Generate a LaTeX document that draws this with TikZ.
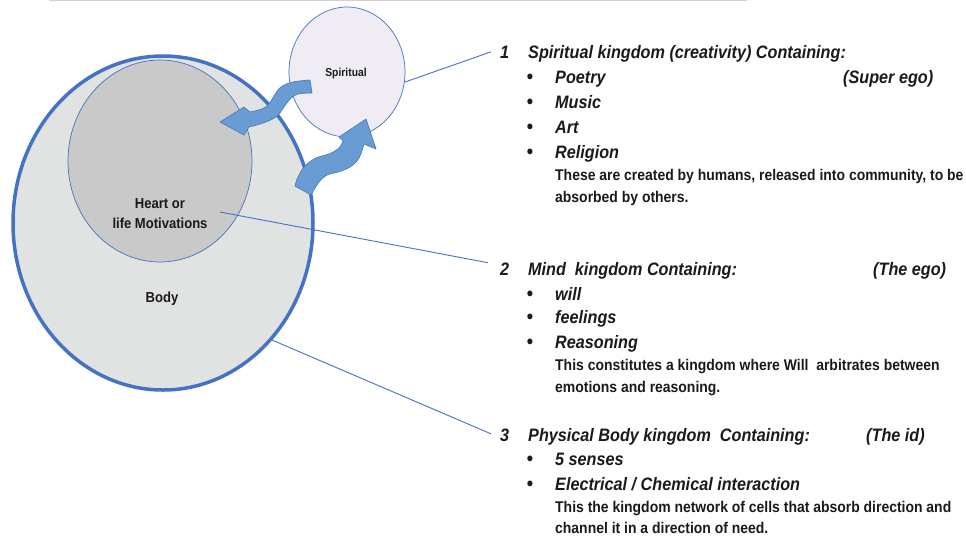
\documentclass[tikz,border=0pt]{standalone}
\usepackage{fontspec}
\setmainfont{Liberation Sans}[FakeStretch=0.9]
\usetikzlibrary{shapes.geometric}
\definecolor{bord}{HTML}{4472C4}
\definecolor{bodyfill}{HTML}{E1E3E2}
\definecolor{heartfill}{HTML}{C8C9C8}
\definecolor{spfill}{HTML}{EFECF3}
\definecolor{arrfill}{HTML}{6A9CD4}
\definecolor{arrline}{HTML}{4A7CC0}
\definecolor{txt}{HTML}{1A1A1A}
\begin{document}
\begin{tikzpicture}[x=1pt,y=-1pt,
  heading/.style={anchor=base west,inner sep=0pt,text=txt,font=\fontsize{18}{18}\selectfont\bfseries\itshape},
  itemtext/.style={anchor=base west,inner sep=0pt,text=txt,font=\fontsize{18}{18}\selectfont\bfseries\itshape},
  desc/.style={anchor=base west,inner sep=0pt,text=txt,font=\fontsize{15.5}{15.5}\selectfont\bfseries},
  bul/.style={anchor=base,inner sep=0pt,text=txt,font=\fontsize{20}{20}\selectfont\bfseries},
  lab/.style={anchor=base,inner sep=0pt,text=txt,font=\fontsize{14.5}{14.5}\selectfont\bfseries},
  conn/.style={draw=bord,line width=0.9pt},
  arr/.style={fill=arrfill,draw=arrline,line width=0.7pt,line join=round}
]
\useasboundingbox[fill=white] (0,0) rectangle (966,539);
\draw[gray!35,line width=1.2pt] (49,0.6) -- (747,0.6);

% shapes
\node[ellipse,draw=bord,line width=3.5pt,fill=bodyfill,minimum width=300pt,minimum height=334pt,inner sep=0pt] (body) at (163,223) {};
\node[ellipse,draw=bord,line width=0.7pt,fill=heartfill,minimum width=184pt,minimum height=202pt,inner sep=0pt] (heart) at (160,161) {};
\node[ellipse,draw=bord,line width=0.7pt,fill=spfill,minimum width=116pt,minimum height=130pt,inner sep=0pt] (spirit) at (347,72) {};

\node[lab] (bodylab) at (162,302) {Body};
\node[lab] (heartlab1) at (160,208) {Heart or};
\node[lab] (heartlab2) at (160,228) {life Motivations};
\node[lab,font=\fontsize{11.5}{11.5}\selectfont\bfseries] (splab) at (346,76) {Spiritual};

% wavy arrows
\filldraw[arr] plot[smooth,tension=0.6] coordinates {(310,80) (293,82) (281,87) (274,96) (269,104) (262,109) (250,112)}
  -- (244,107) -- (220,122) -- (244,135)
  -- plot[smooth,tension=0.6] coordinates {(249,127) (266,122) (277,116) (284,107) (290,99) (298,94) (312,93)} -- cycle;
\filldraw[arr] plot[smooth,tension=0.6] coordinates {(295,186) (298,177) (305,166) (316,158) (329,154) (339,148) (343,141)}
  -- (339,137) -- (366,119) -- (376,149)
  -- plot[smooth,tension=0.6] coordinates {(364,144) (359,158) (350,167) (338,172) (327,175) (319,182) (311,195)} -- cycle;

% section numbers
\node[heading] (n1) at (500,58) {1};
\node[heading] (n2) at (500,275) {2};
\node[heading] (n3) at (500,441) {3};

\coordinate (hl) at (220,212);
\draw[conn] (spirit.-10) -- ([xshift=-9pt]n1.west);
\draw[conn] (hl) -- ([xshift=-12pt,yshift=6pt]n2.west);
\draw[conn] (body.-47) -- ([xshift=-9pt,yshift=1pt]n3.west);

% section 1
\node[heading] (h1) at (528,58) {Spiritual kingdom (creativity) Containing:};
\node[bul] (b11) at (530,83) {\textbullet};
\node[itemtext] (i11) at (555,83) {Poetry};
\node[itemtext] (se) at (843,83) {(Super ego)};
\node[bul] (b12) at (530,108) {\textbullet};
\node[itemtext] (i12) at (555,108) {Music};
\node[bul] (b13) at (530,133) {\textbullet};
\node[itemtext] (i13) at (555,133) {Art};
\node[bul] (b14) at (530,158) {\textbullet};
\node[itemtext] (i14) at (555,158) {Religion};
\node[desc] (d11) at (555,180) {These are created by humans, released into community, to be};
\node[desc] (d12) at (555,202) {absorbed by others.};

% section 2
\node[heading] (h2) at (528,275) {Mind\ \ kingdom Containing:};
\node[itemtext] (ego) at (873,275) {(The ego)};
\node[bul] (b21) at (530,300) {\textbullet};
\node[itemtext] (i21) at (555,300) {will};
\node[bul] (b22) at (530,323) {\textbullet};
\node[itemtext] (i22) at (555,323) {feelings};
\node[bul] (b23) at (530,348) {\textbullet};
\node[itemtext] (i23) at (555,348) {Reasoning};
\node[desc] (d21) at (555,370) {This constitutes a kingdom where Will\ \ arbitrates between};
\node[desc] (d22) at (555,392) {emotions and reasoning.};

% section 3
\node[heading] (h3) at (528,441) {Physical Body kingdom\ \ Containing:};
\node[itemtext] (id) at (866,441) {(The id)};
\node[bul] (b31) at (530,465) {\textbullet};
\node[itemtext] (i31) at (555,465) {5 senses};
\node[bul] (b32) at (530,490) {\textbullet};
\node[itemtext] (i32) at (555,490) {Electrical / Chemical interaction};
\node[desc] (d31) at (555,512) {This the kingdom network of cells that absorb direction and};
\node[desc] (d32) at (555,533) {channel it in a direction of need.};
\end{tikzpicture}
\end{document}
